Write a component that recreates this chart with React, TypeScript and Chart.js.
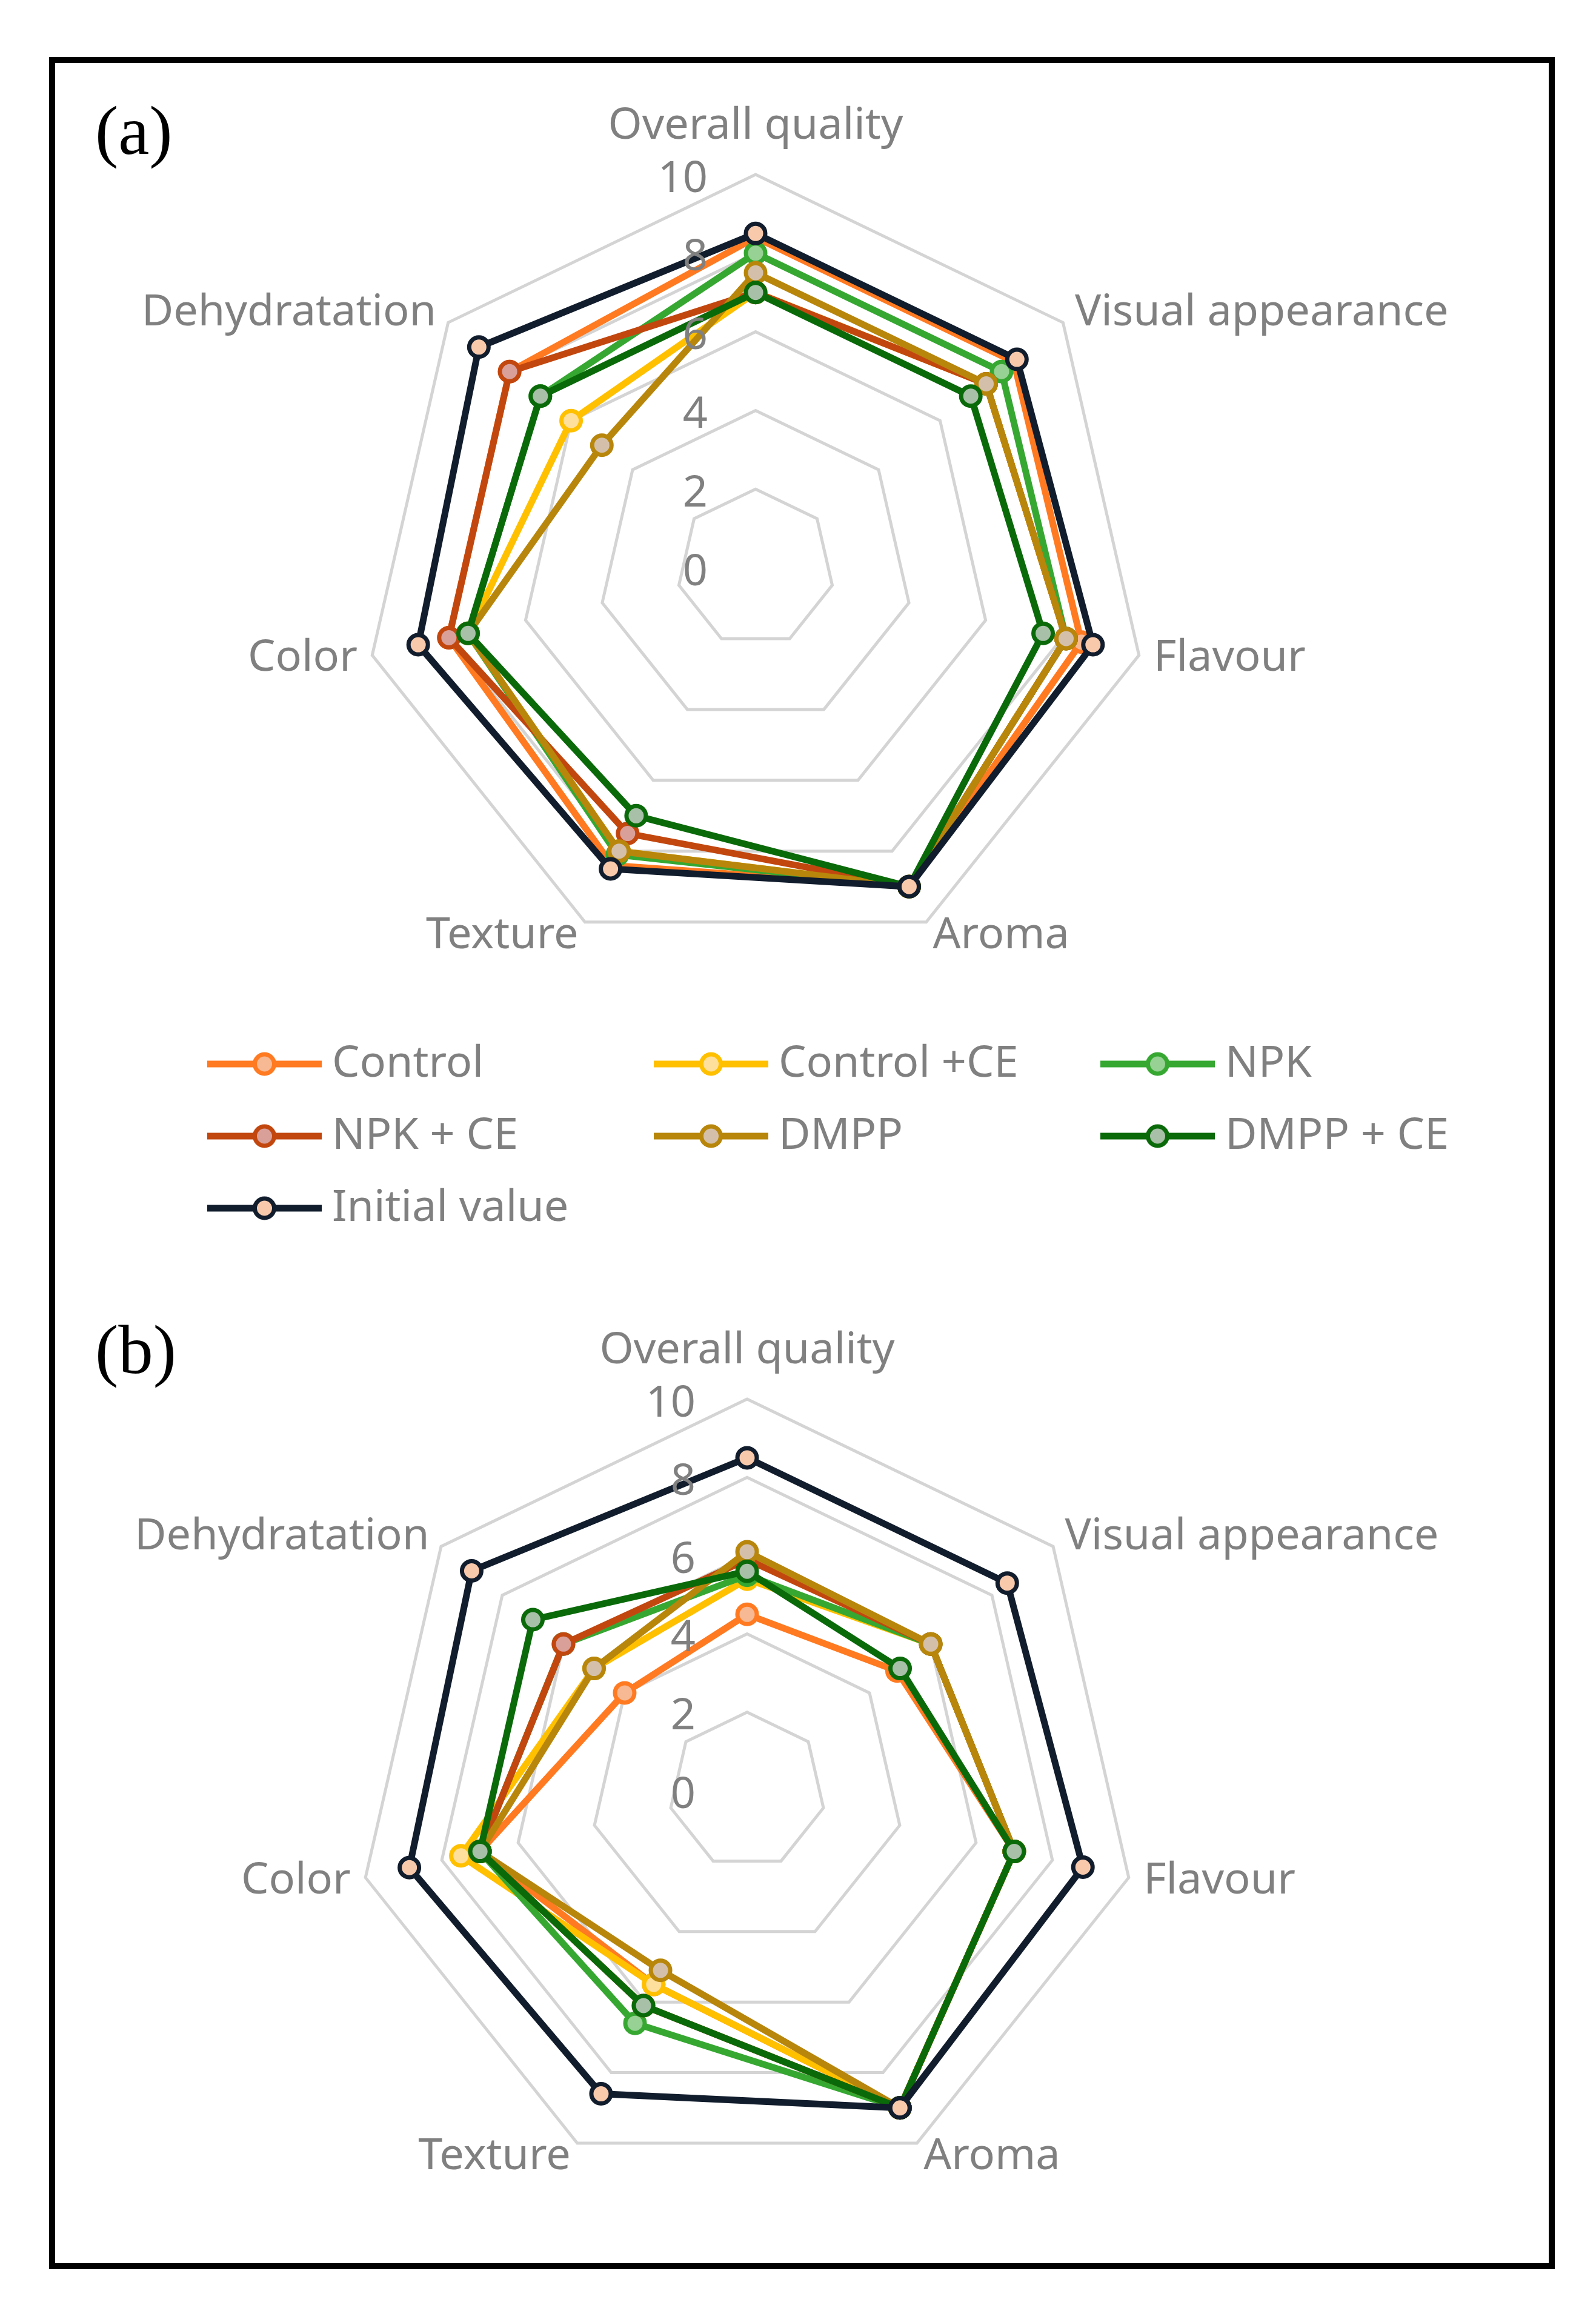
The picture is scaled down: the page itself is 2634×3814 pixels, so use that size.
import React, { useEffect, useRef } from "react";
import { Chart, registerables } from "chart.js";

Chart.register(...registerables);

// ---------- data ----------
const categories = [
  "Overall quality",
  "Visual appearance",
  "Flavour",
  "Aroma",
  "Texture",
  "Color",
  "Dehydratation",
];
const seriesNames = [
  "Control",
  "Control +CE",
  "NPK",
  "NPK + CE",
  "DMPP",
  "DMPP + CE",
  "Initial value",
];
const tickValues = [0, 2, 4, 6, 8, 10];

// panel (a)
const controlA = [8.4, 8.4, 8.5, 9.0, 8.4, 8.0, 8.0];
const controlCeA = [7.0, 7.5, 8.1, 9.0, 8.0, 7.5, 6.0];
const npkA = [8.0, 8.0, 8.1, 9.0, 8.1, 7.5, 7.0];
const npkCeA = [7.0, 7.5, 8.1, 9.0, 7.5, 8.0, 8.0];
const dmppA = [7.5, 7.5, 8.1, 9.0, 8.0, 7.5, 5.0];
const dmppCeA = [7.0, 7.0, 7.5, 9.0, 7.0, 7.5, 7.0];
const initialA = [8.5, 8.5, 8.8, 9.0, 8.5, 8.8, 9.0];

// panel (b)
const controlB = [4.5, 4.9, 7.0, 9.0, 5.5, 7.0, 4.0];
const controlCeB = [5.4, 6.0, 7.0, 9.0, 5.5, 7.5, 5.0];
const npkB = [5.5, 6.0, 7.0, 9.0, 6.6, 7.0, 6.0];
const npkCeB = [5.9, 6.0, 7.0, 9.0, 6.1, 7.0, 6.0];
const dmppB = [6.1, 6.0, 7.0, 9.0, 5.1, 7.0, 5.0];
const dmppCeB = [5.6, 5.0, 7.0, 9.0, 6.1, 7.0, 7.0];
const initialB = [8.5, 8.5, 8.8, 9.0, 8.6, 8.85, 9.0];

// ---------- styles ----------
const LINE_COLORS = ["#ff7a21", "#ffc000", "#36a832", "#c2470f", "#b8860b", "#0a6a0a", "#111c2c"];
const POINT_FILLS = ["#f7b994", "#ffdf9c", "#97d193", "#d9a09a", "#d4c0aa", "#a8bfa8", "#f9c9ac"];
const GRAY = "#808080";
const FONT_FAMILY = '"Noto Sans", "Open Sans", sans-serif';
const FONT_SIZE = 72;

function makeDatasets(values: number[][]) {
  return values.map((v, i) => ({
    label: seriesNames[i],
    data: v,
    borderColor: LINE_COLORS[i],
    backgroundColor: LINE_COLORS[i],
    borderWidth: 11,
    fill: false,
    pointRadius: 16,
    pointHoverRadius: 16,
    pointBorderWidth: 7,
    pointBorderColor: LINE_COLORS[i],
    pointBackgroundColor: POINT_FILLS[i],
    order: values.length - 1 - i,
  }));
}

const radarText = {
  id: "radarText",
  afterDraw(chart: any, _args: any, opts: any) {
    const s = chart.scales.r;
    const ctx = chart.ctx;
    ctx.save();
    ctx.fillStyle = GRAY;
    ctx.font = `${FONT_SIZE}px ${FONT_FAMILY}`;
    ctx.textBaseline = "middle";
    // radial tick labels, to the left of the vertical axis
    ctx.textAlign = "right";
    s.ticks.forEach((t: any) => {
      const d = s.getDistanceFromCenterForValue(t.value);
      ctx.fillText(String(t.value), s.xCenter - opts.tickGap, s.yCenter - d + opts.tickDy);
    });
    // category labels
    const labels: string[] = chart.data.labels;
    const n = labels.length;
    labels.forEach((lab, i) => {
      const deg = (360 * i) / n;
      if (i === 0) {
        const p = s.getPointPosition(0, s.drawingArea + opts.topPad);
        ctx.textAlign = "center";
        ctx.fillText(lab, p.x, p.y);
      } else {
        const p = s.getPointPosition(i, s.drawingArea + opts.sidePad);
        ctx.textAlign = deg < 180 ? "left" : "right";
        ctx.fillText(lab, p.x, p.y + opts.sideDy);
      }
    });
    ctx.restore();
  },
};

const gridLegend = {
  id: "gridLegend",
  afterDraw(chart: any, _args: any, opts: any) {
    if (!opts || !opts.show) return;
    const ctx = chart.ctx;
    ctx.save();
    chart.data.datasets.forEach((ds: any, i: number) => {
      const col = i % 3;
      const row = Math.floor(i / 3);
      const x = opts.x0 + col * opts.colW;
      const y = opts.y0 + row * opts.rowH;
      ctx.strokeStyle = ds.borderColor;
      ctx.lineWidth = ds.borderWidth;
      ctx.beginPath();
      ctx.moveTo(x, y);
      ctx.lineTo(x + opts.lineLen, y);
      ctx.stroke();
      ctx.beginPath();
      ctx.arc(x + opts.lineLen / 2, y, ds.pointRadius, 0, Math.PI * 2);
      ctx.fillStyle = ds.pointBackgroundColor;
      ctx.fill();
      ctx.lineWidth = ds.pointBorderWidth;
      ctx.strokeStyle = ds.pointBorderColor;
      ctx.stroke();
      ctx.fillStyle = GRAY;
      ctx.font = `${FONT_SIZE}px ${FONT_FAMILY}`;
      ctx.textAlign = "left";
      ctx.textBaseline = "middle";
      ctx.fillText(ds.label, x + opts.lineLen + opts.textGap, y);
    });
    ctx.restore();
  },
};

function makeConfig(values: number[][], padding: any, textOpts: any, legendOpts: any) {
  return {
    type: "radar" as const,
    data: { labels: categories, datasets: makeDatasets(values) },
    options: {
      responsive: false,
      animation: false as const,
      devicePixelRatio: 1,
      layout: { padding },
      elements: { line: { tension: 0 } },
      plugins: {
        legend: { display: false },
        tooltip: { enabled: false },
        radarText: textOpts,
        gridLegend: legendOpts,
      },
      scales: {
        r: {
          min: 0,
          max: 10,
          afterBuildTicks: (s: any) => {
            s.ticks = tickValues.map((v) => ({ value: v }));
          },
          ticks: { stepSize: 2, display: false },
          grid: { color: "#d4d4d4", lineWidth: 5 },
          angleLines: { display: false },
          pointLabels: { display: false },
        },
      },
    },
    plugins: [radarText, gridLegend],
  };
}

const W = 2634;
const HA = 2100;
const HB = 1714;

export default function App() {
  const refA = useRef<HTMLCanvasElement>(null);
  const refB = useRef<HTMLCanvasElement>(null);

  useEffect(() => {
    document.body.style.margin = "0";
    const RA = 649;
    const cxA = 1247;
    const cyA = 937;
    const chartA = new Chart(
      refA.current as HTMLCanvasElement,
      makeConfig(
        [controlA, controlCeA, npkA, npkCeA, dmppA, dmppCeA, initialA],
        { left: cxA - RA, right: W - cxA - RA, top: cyA - RA, bottom: HA - cyA - RA },
        { tickGap: 79, tickDy: 8, topPad: 80, sidePad: 25, sideDy: 0 },
        { show: true, x0: 342, colW: 737, y0: 1756, rowH: 119, lineLen: 189, textGap: 17 }
      ) as any
    );
    const RB = 646;
    const cxB = 1233;
    const cyB = 2955 - HA;
    const chartB = new Chart(
      refB.current as HTMLCanvasElement,
      makeConfig(
        [controlB, controlCeB, npkB, npkCeB, dmppB, dmppCeB, initialB],
        { left: cxB - RB, right: W - cxB - RB, top: cyB - RB, bottom: HB - cyB - RB },
        { tickGap: 85, tickDy: 8, topPad: 80, sidePad: 25, sideDy: 0 },
        { show: false }
      ) as any
    );
    return () => {
      chartA.destroy();
      chartB.destroy();
    };
  }, []);

  return (
    <div
      style={{
        position: "absolute",
        left: 0,
        top: 0,
        width: W,
        height: 3814,
        background: "#ffffff",
        overflow: "hidden",
      }}
    >
      <div
        style={{
          position: "absolute",
          left: 81,
          top: 94,
          width: 2485,
          height: 3651,
          border: "10px solid #000",
          boxSizing: "border-box",
        }}
      />
      <canvas ref={refA} width={W} height={HA} style={{ position: "absolute", left: 0, top: 0 }} />
      <canvas ref={refB} width={W} height={HB} style={{ position: "absolute", left: 0, top: HA }} />
      <div
        style={{
          position: "absolute",
          left: 157,
          top: 158,
          fontFamily: '"Liberation Serif", serif',
          fontSize: 115,
          lineHeight: 1,
          color: "#000",
        }}
      >
        (a)
      </div>
      <div
        style={{
          position: "absolute",
          left: 157,
          top: 2170,
          fontFamily: '"Liberation Serif", serif',
          fontSize: 115,
          lineHeight: 1,
          color: "#000",
        }}
      >
        (b)
      </div>
    </div>
  );
}
